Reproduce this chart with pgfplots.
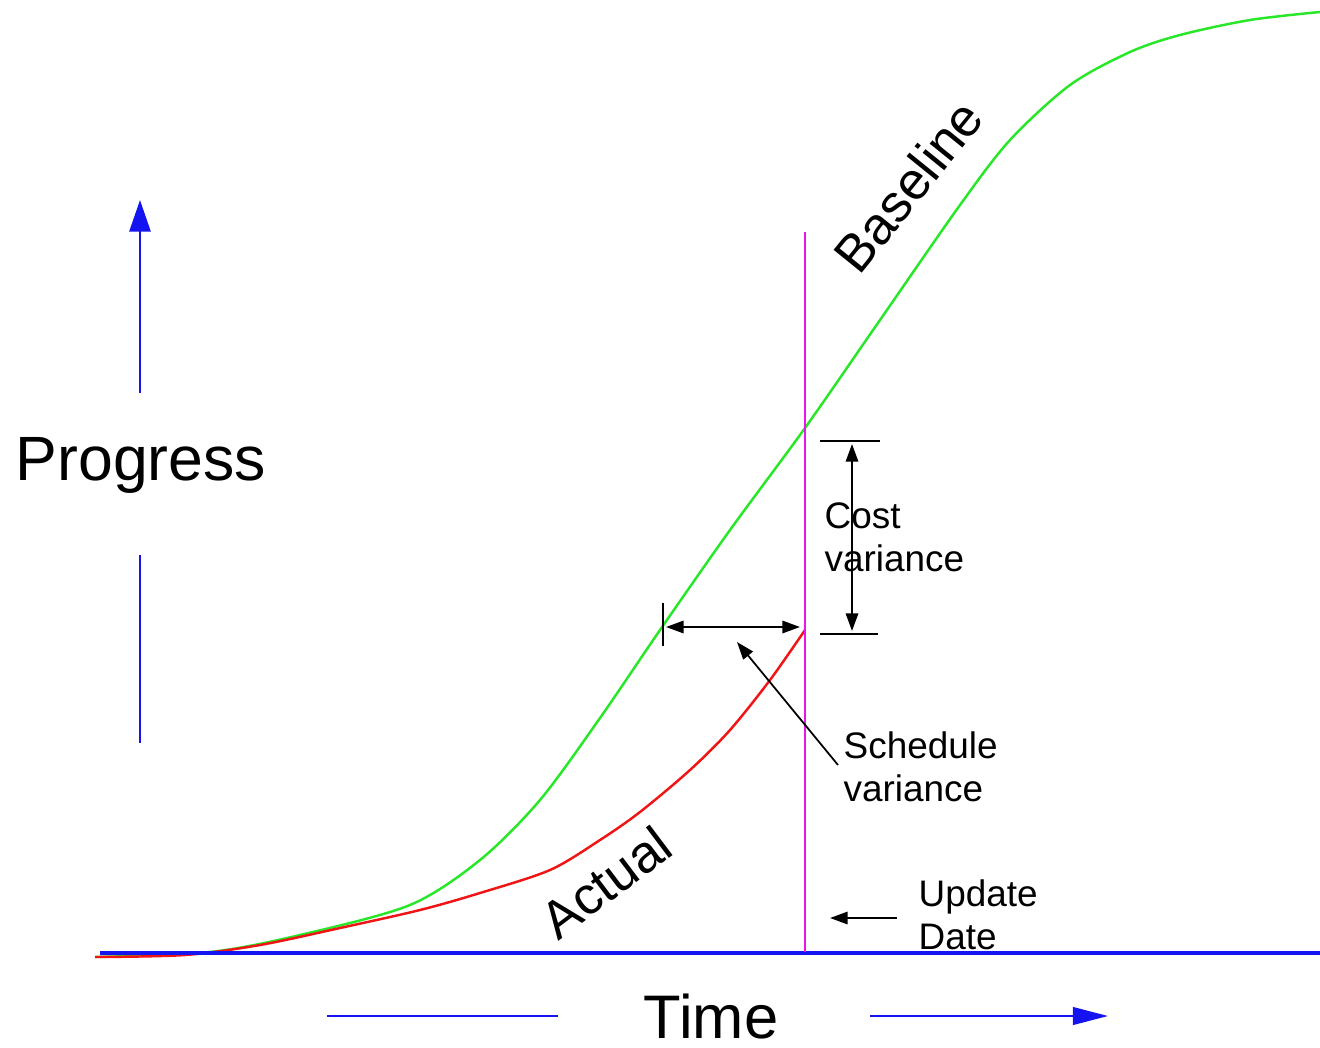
\documentclass[border=0pt]{standalone}
\usepackage{fontspec}
\setmainfont{Liberation Sans}
\usepackage{pgfplots}
\pgfplotsset{compat=1.18}
\usetikzlibrary{arrows.meta}
\definecolor{gline}{RGB}{40,230,40}
\definecolor{rline}{RGB}{240,20,20}
\definecolor{bline}{RGB}{20,20,240}
\definecolor{mline}{RGB}{235,20,235}
\begin{document}
\begin{tikzpicture}
\begin{axis}[scale only axis, width=132mm, height=104.7mm,
  xmin=0, xmax=1320, ymin=-1047, ymax=0,
  axis lines=none, clip=false]
% baseline (green)
\addplot[gline, line width=0.7pt, smooth, tension=0.5] coordinates {
(95,-957) (210,-952) (300,-935) (410,-905) (480,-860) (540,-800) (600,-718) (660,-630) (730,-530) (805,-428) (880,-320) (960,-205) (1010,-140) (1070,-85) (1130,-52) (1180,-35) (1250,-20) (1320,-12)};
% actual (red)
\addplot[rline, line width=0.7pt, smooth, tension=0.5] coordinates {
(95,-957) (185,-955) (260,-945) (340,-928) (420,-910) (480,-893) (550,-870) (600,-840) (640,-812) (690,-770) (730,-730) (770,-680) (805,-630)};
% time axis
\addplot[bline, line width=1.2pt] coordinates {(100,-953) (1320,-953)};
% update date line
\addplot[mline, line width=0.7pt] coordinates {(805,-232) (805,-952)};
% progress arrow
\addplot[bline, line width=0.7pt, -{Triangle[length=9pt,width=6pt]}] coordinates {(140,-393) (140,-200)};
\addplot[bline, line width=0.7pt] coordinates {(140,-555) (140,-743)};
% time arrows
\addplot[bline, line width=0.7pt] coordinates {(327,-1016) (558,-1016)};
\addplot[bline, line width=0.7pt, -{Triangle[length=10pt,width=5pt]}] coordinates {(870,-1016) (1108,-1016)};
% cost variance
\addplot[black, line width=0.6pt] coordinates {(820,-441) (880,-441)};
\addplot[black, line width=0.6pt] coordinates {(820,-634) (878,-634)};
\addplot[black, line width=0.6pt, {Triangle[length=5pt,width=3.5pt]}-{Triangle[length=5pt,width=3.5pt]}] coordinates {(852,-444) (852,-631)};
% schedule variance
\addplot[black, line width=0.6pt] coordinates {(663,-603) (663,-646)};
\addplot[black, line width=0.6pt, {Triangle[length=5pt,width=3.5pt]}-{Triangle[length=5pt,width=3.5pt]}] coordinates {(666,-627) (800,-627)};
\addplot[black, line width=0.5pt, -{Triangle[length=5pt,width=3.5pt]}] coordinates {(838,-765) (737,-642)};
% update date arrow
\addplot[black, line width=0.6pt, -{Triangle[length=5pt,width=3.5pt]}] coordinates {(897,-918) (830,-918)};
% texts
\node[font=\fontsize{17.8}{20}\selectfont, inner sep=0pt] at (axis cs:141,-465) {Progress};
\node[font=\fontsize{17.5}{20}\selectfont, inner sep=0pt] at (axis cs:711,-1016) {Time};
\node[font=\fontsize{15}{18}\selectfont, rotate=51, inner sep=0pt] at (axis cs:908,-186) {Baseline};
\node[font=\fontsize{15}{18}\selectfont, rotate=37, inner sep=0pt] at (axis cs:606,-882) {Actual};
\node[font=\fontsize{10.5}{12.3}\selectfont, align=left, anchor=north west, inner sep=0pt] at (axis cs:824,-502) {Cost\\variance};
\node[font=\fontsize{10.5}{12.3}\selectfont, align=left, anchor=north west, inner sep=0pt] at (axis cs:843,-731) {Schedule\\variance};
\node[font=\fontsize{10.5}{12.3}\selectfont, align=left, anchor=north west, inner sep=0pt] at (axis cs:918,-879) {Update\\Date};
\end{axis}
\pgfresetboundingbox
\path[use as bounding box] (0,0) rectangle (132mm,104.7mm);
\end{tikzpicture}
\end{document}
